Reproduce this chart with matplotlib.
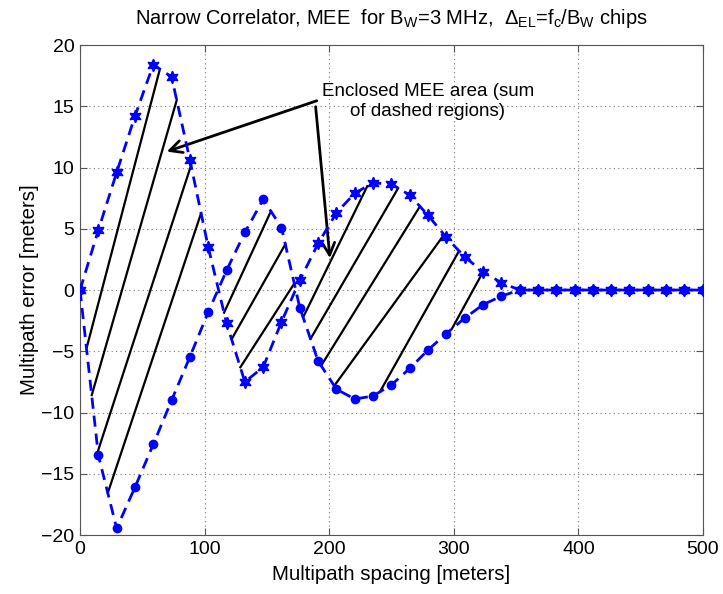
import numpy as np
import matplotlib
matplotlib.use('Agg')
import matplotlib.pyplot as plt

plt.rcParams['font.family'] = ['Liberation Sans', 'DejaVu Sans']
plt.rcParams['mathtext.fontset'] = 'custom'
plt.rcParams['mathtext.rm'] = 'Liberation Sans'
plt.rcParams['mathtext.it'] = 'Liberation Sans:italic'

# --- data ---
spacing_m = [i * 14.7 for i in range(35)]  # multipath spacing [m]

# curve drawn with hexagram markers
err_star = [0, 4.9, 9.6, 14.2, 18.4, 17.4, 10.6, 3.5, -2.7, -7.5,
            -6.3, -2.6, 0.8, 3.8, 6.3, 7.9, 8.75, 8.65, 7.75, 6.1,
            4.3, 2.7, 1.5, 0.6, 0, 0, 0, 0, 0, 0,
            0, 0, 0, 0, 0]
# curve drawn with dot markers
err_dot = [0, -13.5, -19.45, -16.1, -12.6, -9.0, -5.45, -1.8, 1.6, 4.7,
           7.4, 5.1, -1.45, -5.8, -8.1, -8.9, -8.65, -7.75, -6.4, -4.9,
           -3.55, -2.3, -1.2, -0.5, 0, 0, 0, 0, 0, 0,
           0, 0, 0, 0, 0]

# hatch lines: where each one crosses zero error, and its slope [m/m]
hatch_cross = [17.5, 33.7, 56.5, 76.6, 124.0, 144.0, 168.6,
               189.8, 207.8, 231.2, 259.9, 286.6, 315.5]
hatch_slope = [0.387, 0.353, 0.312, 0.305, 0.22, 0.18, 0.158,
               0.208, 0.175, 0.164, 0.14, 0.181, 0.186]

x = np.array(spacing_m)
a = np.array(err_star)
b = np.array(err_dot)

fig = plt.figure(figsize=(7.23, 5.94), dpi=100)
ax = fig.add_axes([0.1107, 0.0993, 0.8616, 0.8249])

# --- hatching between the two curves ---
def hatch_segment(x0, s):
    xs = x0 + np.linspace(-90, 90, 3601)
    ys = s * (xs - x0)
    up = np.maximum(np.interp(xs, x, a), np.interp(xs, x, b))
    lo = np.minimum(np.interp(xs, x, a), np.interp(xs, x, b))
    inside = (ys <= up) & (ys >= lo)
    mid = len(xs) // 2
    i0 = mid
    while i0 > 0 and inside[i0 - 1]:
        i0 -= 1
    i1 = mid
    while i1 < len(xs) - 1 and inside[i1 + 1]:
        i1 += 1
    return xs[[i0, i1]], ys[[i0, i1]]

for x0, s in zip(hatch_cross, hatch_slope):
    hx, hy = hatch_segment(x0, s)
    ax.plot(hx, hy, color='k', lw=1.6, zorder=2)

ax.plot(x, b, '--', color='b', lw=2.0, dashes=(4, 2.5),
        marker='o', markersize=6, zorder=3)
ax.plot(x, a, '--', color='b', lw=2.0, dashes=(4, 2.5),
        marker=(6, 1, 0), markersize=9, zorder=4)

# --- annotation ---
ax.text(279, 15.4, 'Enclosed MEE area (sum\nof dashed regions)',
        ha='center', va='center', fontsize=13.5, linespacing=1.25)
ax.annotate('', xy=(69.6, 11.3), xytext=(190, 15.45),
            arrowprops=dict(arrowstyle='->', lw=2, color='k',
                            mutation_scale=22, shrinkA=0, shrinkB=0))
ax.annotate('', xy=(200.6, 2.6), xytext=(189.1, 14.96),
            arrowprops=dict(arrowstyle='->', lw=2, color='k',
                            mutation_scale=22, shrinkA=0, shrinkB=0))

ax.set_xlim(0, 500)
ax.set_ylim(-20, 20)
ax.set_xticks(range(0, 501, 100))
ax.set_yticks(range(-20, 21, 5))
ax.tick_params(direction='in', length=5, top=True, right=True,
               labelsize=14, color='#555555', pad=4)
ax.grid(True, linestyle=(0, (1, 3)), color='#777777', lw=0.8)
for sp in ax.spines.values():
    sp.set_color('#555555')

ax.set_xlabel('Multipath spacing [meters]', fontsize=14.7, labelpad=5)
ax.set_ylabel('Multipath error [meters]', fontsize=14.7, labelpad=2)
ax.set_title(r'Narrow Correlator, MEE  for B$_{\rm W}$=3 MHz,  '
             r'$\Delta_{\rm EL}$=f$_{\rm c}$/B$_{\rm W}$ chips',
             fontsize=14.5, pad=15)

fig.savefig('out.png', dpi=100)
